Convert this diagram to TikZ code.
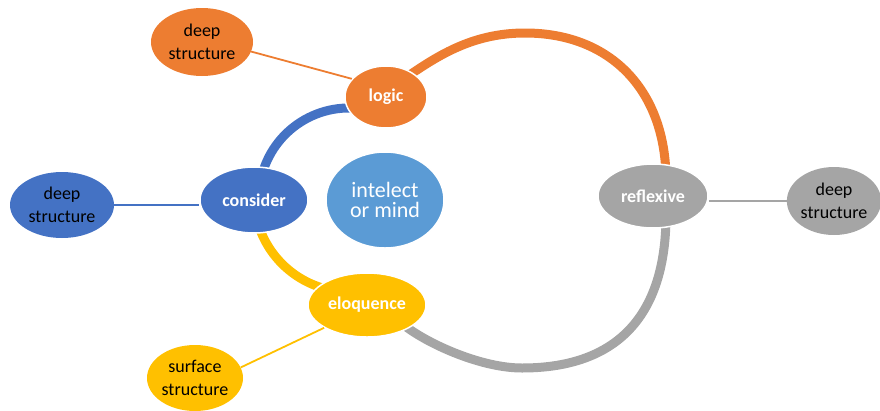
\documentclass[tikz,border=0pt]{standalone}
\usepackage{fontspec}
\setmainfont{Carlito}
\usetikzlibrary{shapes.geometric}
\definecolor{cOrange}{HTML}{ED7D31}
\definecolor{cBlue}{HTML}{4472C4}
\definecolor{cLight}{HTML}{5B9BD5}
\definecolor{cGray}{HTML}{A5A5A5}
\definecolor{cYellow}{HTML}{FFC000}
\begin{document}
\begin{tikzpicture}[x=1pt,y=-1pt,
  bubble/.style={ellipse, inner sep=0pt, align=center, text=black, font=\fontsize{18}{23}\selectfont},
  cyc/.style={ellipse, inner sep=0pt, draw=white, line width=1.5pt, text=white, align=center, font=\bfseries\fontsize{18}{22}\selectfont},
  ring/.style={line width=9pt},
  link/.style={line width=1.8pt},
]
\useasboundingbox (0,0) rectangle (880,410);
% ring arcs (behind the nodes)
\coordinate (cL) at (349,198);
\coordinate (cY) at (350,196);
\coordinate (oStart) at (405,78);
\coordinate (oTop) at (525,33);
\coordinate (oEnd) at (666,180);
\coordinate (gStart) at (666,215);
\coordinate (gBot) at (522,368);
\coordinate (gEnd) at (405,326);
\draw[ring, cBlue] (cL) ++(-80:90) arc[start angle=-80, end angle=-170, radius=90];
\draw[ring, cYellow] (cY) ++(165:96) arc[start angle=165, end angle=95, radius=96];
\draw[ring, cOrange] (oStart) .. controls (435,58) and (470,33) .. (oTop)
  .. controls (612,33) and (666,92) .. (oEnd);
\draw[ring, cGray] (gStart) .. controls (666,318) and (615,368) .. (gBot)
  .. controls (482,368) and (430,345) .. (gEnd);
% nodes
\node[bubble, fill=cOrange, minimum width=102pt, minimum height=68pt] (ds1) at (202,42) {deep\\structure};
\node[cyc, fill=cOrange, minimum width=82pt, minimum height=62pt] (logic) at (386,97) {logic};
\node[bubble, fill=cBlue, minimum width=104pt, minimum height=66pt] (ds2) at (62,205) {deep\\structure};
\node[cyc, fill=cBlue, minimum width=108pt, minimum height=66pt] (consider) at (254,200) {consider};
\node[cyc, fill=cLight, minimum width=118pt, minimum height=96pt, font=\fontsize{22}{20}\selectfont] (mind) at (385,200) {intelect\\or mind};
\node[cyc, fill=cGray, minimum width=110pt, minimum height=64pt] (reflexive) at (653,196) {reflexive};
\node[bubble, fill=cGray, minimum width=88pt, minimum height=68pt] (ds3) at (834,201) {deep\\structure};
\node[cyc, fill=cYellow, minimum width=118pt, minimum height=64pt] (eloquence) at (367,305) {eloquence};
\node[bubble, fill=cYellow, minimum width=96pt, minimum height=66pt] (surface) at (195,378) {surface\\structure};
% links
\draw[link, cOrange] (ds1.-11) -- (logic.152);
\draw[link, cBlue] (ds2.east) -- (consider.west |- ds2.east);
\draw[link, cGray] (reflexive.east |- ds3.west) -- (ds3.west);
\draw[link, cYellow] (eloquence.208) -- (surface.13);
\end{tikzpicture}
\end{document}
